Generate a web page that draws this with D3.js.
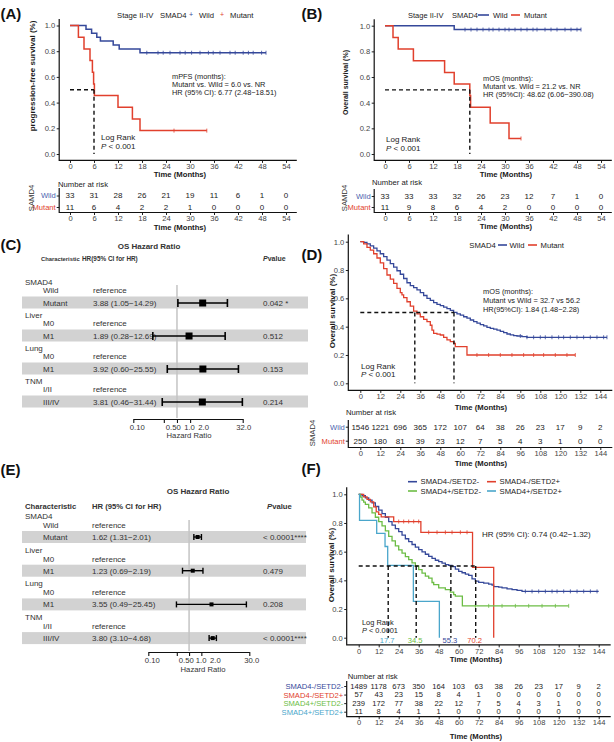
<!DOCTYPE html>
<html>
<head>
<meta charset="utf-8">
<script src="https://cdn.jsdelivr.net/npm/d3@7"></script>
<style>
  body { margin: 0; background: #fff; }
</style>
</head>
<body>
<div id="chart"></div>
<script>
const BLUE = "#35489a", RED = "#e1402d", GREEN = "#6cbd45", TEAL = "#4aa6cb";
const FONT = '"Liberation Sans", Arial, Helvetica, sans-serif';

// (A) PFS, stage II-IV
const aTimes = [0, 6, 12, 18, 24, 30, 36, 42, 48, 54];
const aWild = [[0, 1], [4, 0.97], [5.4, 0.939], [6.7, 0.909], [7.6, 0.879], [10.8, 0.848], [12.3, 0.818], [17.5, 0.788], [49, 0.788]];
const aMutant = [[0, 1], [2.1, 0.909], [3.5, 0.818], [5, 0.727], [5.6, 0.636], [5.9, 0.545], [6.1, 0.455], [12, 0.364], [15.6, 0.273], [17.5, 0.182], [34.2, 0.182]];
const aWildCensor = [19.2, 22, 23.3, 25, 27.5, 28.8, 30.4, 32.5, 34.6, 35.8, 37.5, 40, 41.3, 43.3, 44.6, 45.8, 47.9, 49];
const aMutantCensor = [26, 34.2];
const aRiskWild = [33, 31, 28, 26, 21, 19, 11, 6, 1, 0];
const aRiskMutant = [11, 6, 4, 2, 2, 1, 0, 0, 0, 0];
const aMedians = [6.0];

// (B) OS, stage II-IV
const bWild = [[0, 1], [17.3, 0.97], [49, 0.97]];
const bMutant = [[0, 1], [2, 0.909], [3.3, 0.818], [7.1, 0.727], [14.9, 0.636], [17.3, 0.545], [21.2, 0.455], [21.4, 0.364], [26.3, 0.242], [31, 0.121], [34, 0.121]];
const bWildCensor = [20, 21.5, 23, 24.5, 26, 27, 28.5, 30, 31, 32.5, 34, 35.5, 37, 38, 40, 41.5, 43, 45, 46.5, 48, 49];
const bMutantCensor = [34];
const bRiskWild = [33, 33, 33, 32, 26, 23, 12, 7, 1, 0];
const bRiskMutant = [11, 9, 8, 6, 4, 2, 0, 0, 0, 0];
const bMedians = [21.2];

// (C) multivariable OS, stage II-IV
const cGroups = ["SMAD4", "Liver", "Lung", "TNM"];
const cRefLevels = ["Wild", "M0", "M0", "I/II"];
const cLevels = ["Mutant", "M1", "M1", "III/IV"];
const cHR = [3.88, 1.89, 3.92, 3.81];
const cLow = [1.05, 0.28, 0.60, 0.46];
const cHigh = [14.29, 12.69, 25.55, 31.44];
const cP = ["0.042 *", "0.512", "0.153", "0.214"];
const cTicks = [0.1, 0.5, 1, 2, 32];
const cTickLabels = ["0.10", "0.50", "1.0", "2.0", "32.0"];

// (D) OS, whole cohort
const dTimes = [0, 12, 24, 36, 48, 60, 72, 84, 96, 108, 120, 132, 144];
const dWild = [[0, 1], [2, 0.995], [4, 0.985], [6, 0.97], [8, 0.955], [10, 0.935], [12, 0.915], [14, 0.895], [16, 0.87], [18, 0.845], [20, 0.82], [22, 0.795], [24, 0.77], [26, 0.74], [28, 0.71], [30, 0.69], [32, 0.675], [34, 0.66], [36, 0.64], [38, 0.62], [40, 0.6], [42, 0.585], [44, 0.57], [46, 0.558], [48, 0.548], [50, 0.538], [52, 0.528], [54, 0.515], [56, 0.501], [58, 0.49], [60, 0.482], [62, 0.47], [64, 0.46], [66, 0.447], [68, 0.435], [70, 0.425], [72, 0.415], [74, 0.405], [76, 0.395], [78, 0.388], [80, 0.382], [82, 0.376], [84, 0.366], [86, 0.358], [88, 0.348], [90, 0.342], [92, 0.337], [94, 0.334], [97, 0.329], [100, 0.325], [148, 0.325]];
const dMutant = [[0, 1], [2, 0.985], [4, 0.96], [6, 0.94], [8, 0.915], [10, 0.885], [12, 0.85], [14, 0.81], [16, 0.765], [18, 0.735], [20, 0.706], [22, 0.67], [24, 0.64], [25, 0.624], [26, 0.605], [28, 0.576], [30, 0.545], [32, 0.51], [34, 0.49], [36, 0.47], [38, 0.452], [40, 0.435], [42, 0.41], [43, 0.375], [44, 0.353], [46, 0.347], [48, 0.341], [50, 0.325], [52, 0.306], [54, 0.295], [56, 0.282], [57, 0.259], [64, 0.2], [129, 0.2]];
const dWildCensor = [96, 100, 104, 108, 111, 115, 119, 122, 126, 130, 134, 138, 142, 146, 148];
const dMutantCensor = [70, 77, 84, 91, 98, 104, 110, 117, 124, 129];
const dRiskWild = [1546, 1221, 696, 365, 172, 107, 64, 38, 26, 23, 17, 9, 2];
const dRiskMutant = [250, 180, 81, 39, 23, 12, 7, 5, 4, 3, 1, 0, 0];
const dMedians = [32.7, 56.2];

// (E) multivariable OS, whole cohort
const eGroups = ["SMAD4", "Liver", "Lung", "TNM"];
const eRefLevels = ["Wild", "M0", "M0", "I/II"];
const eLevels = ["Mutant", "M1", "M1", "III/IV"];
const eHR = [1.62, 1.23, 3.55, 3.80];
const eLow = [1.31, 0.69, 0.49, 3.10];
const eHigh = [2.01, 2.19, 25.45, 4.68];
const eP = ["< 0.0001****", "0.479", "0.208", "< 0.0001****"];
const eTicks = [0.1, 0.5, 1, 2, 30];
const eTickLabels = ["0.10", "0.50", "1.0", "2.0", "30.0"];

// (F) SMAD4 x SETD2
const fNames = ["SMAD4-/SETD2-", "SMAD4-/SETD2+", "SMAD4+/SETD2-", "SMAD4+/SETD2+"];
const fBlue = [[0, 1], [2, 0.99], [4, 0.975], [6, 0.96], [8, 0.94], [10, 0.915], [12, 0.89], [14, 0.865], [16, 0.84], [18, 0.81], [20, 0.785], [22, 0.76], [24, 0.74], [26, 0.715], [28, 0.69], [30, 0.67], [32, 0.65], [34, 0.632], [36, 0.614], [38, 0.598], [40, 0.582], [42, 0.567], [44, 0.553], [46, 0.54], [48, 0.53], [50, 0.52], [52, 0.51], [54, 0.505], [56, 0.495], [58, 0.478], [60, 0.463], [62, 0.453], [64, 0.443], [66, 0.435], [68, 0.41], [70, 0.395], [72, 0.386], [75, 0.38], [78, 0.374], [80, 0.366], [81, 0.356], [84, 0.352], [86, 0.347], [89, 0.34], [92, 0.335], [95, 0.33], [98, 0.323], [144, 0.323]];
const fRed = [[0, 1], [3, 0.982], [5, 0.965], [7, 0.947], [9, 0.912], [10.5, 0.877], [12, 0.86], [13.5, 0.842], [21, 0.81], [37.3, 0.735], [68.3, 0.49], [81, 0]];
const fGreen = [[0, 1], [1, 0.98], [2, 0.96], [3, 0.945], [4, 0.93], [6, 0.905], [8, 0.87], [10, 0.84], [12, 0.81], [14, 0.78], [16, 0.745], [18, 0.707], [20, 0.675], [22, 0.64], [24, 0.612], [26, 0.59], [28, 0.565], [30, 0.544], [32, 0.522], [34, 0.5], [36, 0.475], [38, 0.45], [40, 0.43], [42, 0.415], [44, 0.385], [45, 0.37], [48, 0.347], [52, 0.335], [55, 0.318], [57, 0.3], [58, 0.29], [62.2, 0.222], [126, 0.222]];
const fTeal = [[0, 1], [0.5, 0.818], [10.8, 0.727], [15.8, 0.636], [17.4, 0.505], [32.8, 0.253], [48.4, 0]];
const fBlueCensor = [100, 104, 108, 112, 116, 119, 123, 127, 131, 135, 139, 143];
const fRedCensor = [24, 27, 30, 33, 36, 42, 47, 52, 56, 61, 65];
const fGreenCensor = [70, 78, 86, 94, 102, 110, 118, 126];
const fRisk = [
    [1489, 1178, 673, 350, 164, 103, 63, 38, 26, 23, 17, 9, 2],
    [57, 43, 23, 15, 8, 4, 1, 0, 0, 0, 0, 0, 0],
    [239, 172, 77, 38, 22, 12, 7, 5, 4, 3, 1, 0, 0],
    [11, 8, 4, 1, 1, 0, 0, 0, 0, 0, 0, 0, 0]
];
const fMedians = [17.7, 34.5, 55.3, 70.2];

const svg = d3.select("#chart").append("svg")
    .attr("width", 614).attr("height", 742)
    .attr("font-family", FONT).attr("font-size", 8);

function txt(g, x, y, s, o = {}) {
    return g.append("text")
        .attr("x", x).attr("y", y).attr("dy", "0.35em")
        .attr("font-size", o.size || 8)
        .attr("font-weight", o.bold ? "bold" : null)
        .attr("fill", o.color || "#1a1a1a")
        .attr("text-anchor", o.anchor || "start")
        .text(s);
}

function pText(g, x, y, rest, o = {}) {
    const t = txt(g, x, y, "", o);
    t.append("tspan").attr("font-style", "italic").text("P");
    t.append("tspan").text(rest);
    return t;
}

function vtxt(g, x, y, s, o = {}) {
    return g.append("text")
        .attr("transform", `translate(${x},${y}) rotate(-90)`)
        .attr("dy", "0.35em").attr("text-anchor", "middle")
        .attr("font-size", o.size || 8)
        .attr("font-weight", o.bold ? "bold" : null)
        .attr("fill", o.color || "#1a1a1a")
        .text(s);
}

// stacked annotation lines
function block(g, x, y, lines, step) {
    lines.forEach((s, i) => txt(g, x, y + i * step, s, { size: 7.4 }));
}

function styleAxis(sel, size) {
    sel.attr("font-family", FONT).attr("font-size", size || 7.6);
    sel.selectAll("text").attr("fill", "#444");
    sel.selectAll("line").attr("stroke", "#222");
    sel.select(".domain").remove();
}

function survAt(data, t) {
    const i = d3.bisector(d => d[0]).right(data, t) - 1;
    return data[Math.max(0, i)][1];
}

function kmPanel(p) {
    const x = d3.scaleLinear().domain([0, p.tmax]).range(p.xr);
    const y = d3.scaleLinear().domain([0, 1]).range(p.yr);
    const left = x(-0.05 * p.tmax), right = x(1.05 * p.tmax);
    const top = y(1.05), bottom = y(-0.05);
    const g = svg.append("g");

    const line = d3.line().curve(d3.curveStepAfter).x(d => x(d[0])).y(d => y(d[1]));
    p.curves.forEach(c => {
        g.append("path").datum(c.data)
            .attr("fill", "none").attr("stroke", c.color)
            .attr("stroke-width", p.lw || 1.3)
            .attr("d", line);
        g.selectAll(null).data(c.censor || []).join("line")
            .attr("x1", t => x(t)).attr("x2", t => x(t))
            .attr("y1", t => y(survAt(c.data, t)) - 2)
            .attr("y2", t => y(survAt(c.data, t)) + 2)
            .attr("stroke", c.color).attr("stroke-width", 0.8);
    });

    // median guides
    const dash = g.append("g").attr("stroke", "#111")
        .attr("stroke-width", 1.4).attr("stroke-dasharray", "4,3");
    dash.append("line")
        .attr("x1", x(0)).attr("x2", x(d3.max(p.medians)))
        .attr("y1", y(0.5)).attr("y2", y(0.5));
    dash.selectAll(null).data(p.medians).join("line")
        .attr("x1", d => x(d)).attr("x2", d => x(d))
        .attr("y1", y(0.5)).attr("y2", y(0));

    const ya = g.append("g").attr("transform", `translate(${left},0)`)
        .call(d3.axisLeft(y).tickValues([0, 0.2, 0.4, 0.6, 0.8, 1])
            .tickFormat(d3.format(".1f")).tickSize(2.5).tickPadding(1.5));
    styleAxis(ya);
    const xa = g.append("g").attr("transform", `translate(0,${bottom})`)
        .call(d3.axisBottom(x).tickValues(p.times).tickSize(2.5).tickPadding(0.8));
    styleAxis(xa);
    g.append("path")
        .attr("d", `M${left},${top}V${bottom}H${right}`)
        .attr("fill", "none").attr("stroke", "#111").attr("stroke-width", 1.2);

    txt(g, p.xTitle[0], p.xTitle[1], "Time (Months)", { bold: true, anchor: "middle", size: 7.7 });
    vtxt(g, p.yTitle[0], p.yTitle[1], p.yLabel, { bold: true, size: p.yTitleSize || 8 });
    return x;
}

function riskTable(p) {
    const g = svg.append("g");
    const x = p.x;
    const yr = d3.scalePoint().domain(p.rows.map(r => r.name)).range(p.rowY);
    txt(g, p.headX, p.headY, "Number at risk", { color: "#222", size: 7.7 });
    p.rows.forEach(r => {
        g.selectAll(null).data(r.values).join("text")
            .attr("x", (d, i) => x(p.times[i]))
            .attr("y", yr(r.name)).attr("dy", "0.35em")
            .attr("text-anchor", "middle")
            .attr("font-size", p.size || 8).attr("fill", "#222")
            .text(d => d);
    });
    const la = g.append("g").attr("transform", `translate(${p.left},0)`)
        .call(d3.axisLeft(yr).tickSize(2.5).tickPadding(1));
    styleAxis(la, 7.6);
    la.selectAll("text").attr("fill", (d, i) => p.rows[i].color);
    const ba = g.append("g").attr("transform", `translate(0,${p.bottom})`)
        .call(d3.axisBottom(x).tickValues(p.times).tickSize(2.5).tickPadding(0.3));
    styleAxis(ba);
    g.append("path")
        .attr("d", `M${p.left},${p.top}V${p.bottom}H${p.right}`)
        .attr("fill", "none").attr("stroke", "#111").attr("stroke-width", 1.2);
    txt(g, p.xTitle[0], p.xTitle[1], "Time (Months)", { bold: true, anchor: "middle", size: 7.7 });
    if (p.strata) vtxt(g, p.strata[0], p.strata[1], p.strata[2], { color: "#333", size: 7.7 });
}

function forest(p) {
    const g = svg.append("g");
    const x = d3.scaleLog().domain(p.domain).range(p.range);
    const gy = i => p.y0 + i * p.dy;

    g.selectAll(null).data(p.groups).join("rect")
        .attr("x", p.bandX[0]).attr("width", p.bandX[1] - p.bandX[0])
        .attr("y", (d, i) => gy(i) + p.bandTop)
        .attr("height", p.bandBot - p.bandTop)
        .attr("fill", "#d2d2d2");

    g.append("line")
        .attr("x1", x(1)).attr("x2", x(1))
        .attr("y1", p.refTop).attr("y2", p.axisY - 1)
        .attr("stroke", "#c4c4c4").attr("stroke-width", 1.5);

    txt(g, p.titleXY[0], p.titleXY[1], "OS Hazard Ratio", { bold: true, anchor: "middle", color: "#333" });
    txt(g, p.head[0], p.headY, "Characteristic", { bold: true, color: "#333", size: p.headSize[0] });
    txt(g, p.head[1], p.headY, p.hrHead, { bold: true, color: "#333", size: p.headSize[1] });
    pText(g, p.head[2], p.headY, "value", { bold: true, color: "#333", size: p.headSize[2] });

    p.groups.forEach((name, i) => {
        const y0 = gy(i), yl = y0 + p.textOff;
        txt(g, p.groupX, y0, name, { color: "#333" });
        txt(g, p.levelX, y0 + p.refOff, p.refLevels[i], { color: "#333" });
        txt(g, p.hrX, y0 + p.refOff, "reference", { color: "#333" });
        txt(g, p.levelX, yl, p.levels[i], { color: "#333" });
        txt(g, p.hrX, yl, `${p.hr[i].toFixed(2)} (${p.lo[i].toFixed(2)}\u2212${p.hi[i].toFixed(2)})`, { color: "#333" });
        txt(g, p.pX, yl, p.p[i], { color: "#333" });

        g.append("line")
            .attr("x1", x(p.lo[i])).attr("x2", x(p.hi[i]))
            .attr("y1", yl).attr("y2", yl)
            .attr("stroke", "#000").attr("stroke-width", p.lw);
        [p.lo[i], p.hi[i]].forEach(v => {
            g.append("line")
                .attr("x1", x(v)).attr("x2", x(v))
                .attr("y1", yl - p.cap / 2).attr("y2", yl + p.cap / 2)
                .attr("stroke", "#000").attr("stroke-width", p.lw);
        });
        g.append("rect")
            .attr("x", x(p.hr[i]) - p.box / 2).attr("y", yl - p.box / 2)
            .attr("width", p.box).attr("height", p.box)
            .attr("fill", "#000");
    });

    const ax = g.append("g").attr("transform", `translate(0,${p.axisY})`)
        .call(d3.axisBottom(x).tickValues(p.ticks)
            .tickFormat((d, i) => p.tickLabels[i])
            .tickSize(4).tickSizeOuter(0).tickPadding(1.5));
    ax.attr("font-family", FONT).attr("font-size", 7.7);
    ax.selectAll("text").attr("fill", "#333").attr("dx", (d, i) => p.tickDx[i]);
    ax.selectAll("line, path").attr("stroke", "#111").attr("stroke-width", 1.1);
    txt(g, p.axisTitle[0], p.axisTitle[1], "Hazard Ratio", { anchor: "middle", color: "#333", size: 7.7 });
}

function legendLine(g, x1, x2, y, color) {
    g.append("line").attr("x1", x1).attr("x2", x2).attr("y1", y).attr("y2", y)
        .attr("stroke", color).attr("stroke-width", 1.6);
}

// ---------- panel labels
const labels = svg.append("g");
[["(A)", 0.5, 14], ["(B)", 301.5, 14], ["(C)", 0.5, 245], ["(D)", 301.5, 255], ["(E)", 0.5, 470], ["(F)", 301.5, 469]]
    .forEach(d => txt(labels, d[1], d[2], d[0], { bold: true, size: 15, color: "#111" }));

// ---------- (A)
const xA = kmPanel({
    tmax: 54, xr: [70, 286], yr: [154, 25.5], times: aTimes,
    curves: [
        { data: aWild, color: BLUE, censor: aWildCensor },
        { data: aMutant, color: RED, censor: aMutantCensor }
    ],
    medians: aMedians, lw: 1.5,
    xTitle: [180, 174.5], yTitle: [32, 76], yLabel: "progression-free survival (%)"
});
const gA = svg.append("g");
txt(gA, 117, 15, "Stage II-IV", { size: 7.7 });
txt(gA, 160, 15, "SMAD4", { size: 7.7 });
txt(gA, 191, 15, "+", { size: 7, color: BLUE, anchor: "middle" });
txt(gA, 199, 15, "Wild", { size: 7.7 });
txt(gA, 222, 15, "+", { size: 7, color: RED, anchor: "middle" });
txt(gA, 230, 15, "Mutant", { size: 7.7 });
block(gA, 172, 76, ["mPFS (months):", "Mutant vs. Wild = 6.0 vs. NR", "HR (95% CI): 6.77 (2.48\u221218.51)"], 8);
txt(gA, 101, 137.5, "Log Rank");
pText(gA, 101, 146, " < 0.001");
riskTable({
    x: xA, times: aTimes, left: 59.2, right: 296.8, top: 188, bottom: 212.5,
    rows: [{ name: "Wild", color: "#4a5fae", values: aRiskWild }, { name: "Mutant", color: RED, values: aRiskMutant }],
    rowY: [195.5, 207], headX: 58, headY: 184, xTitle: [180, 227], strata: [31, 198, "SAMD4"]
});

// ---------- (B)
const xB = kmPanel({
    tmax: 54, xr: [385, 601], yr: [154, 25.7], times: aTimes,
    curves: [
        { data: bWild, color: BLUE, censor: bWildCensor },
        { data: bMutant, color: RED, censor: bMutantCensor }
    ],
    medians: bMedians, lw: 1.5,
    xTitle: [506, 174.5], yTitle: [346, 82.5], yLabel: "Overall survival (%)", yTitleSize: 7
});
const gB = svg.append("g");
txt(gB, 408, 15, "Stage II-IV", { size: 7.5 });
txt(gB, 452, 15, "SMAD4", { size: 7.5 });
legendLine(gB, 478, 489, 15, BLUE);
txt(gB, 493, 15, "Wild", { size: 7.5 });
legendLine(gB, 511, 520, 15, RED);
txt(gB, 524, 15, "Mutant", { size: 7.5 });
block(gB, 483, 78, ["mOS (months):", "Mutant vs. Wild = 21.2 vs. NR", "HR (95%CI): 48.62 (6.06\u2212390.08)"], 8);
txt(gB, 386, 139.5, "Log Rank");
pText(gB, 386, 148, " < 0.001");
riskTable({
    x: xB, times: aTimes, left: 374.2, right: 611.8, top: 189, bottom: 212.5,
    rows: [{ name: "Wild", color: "#4a5fae", values: bRiskWild }, { name: "Mutant", color: RED, values: bRiskMutant }],
    rowY: [196, 207], headX: 372, headY: 182, xTitle: [506, 226.5], strata: [344, 198, "SAMD4"]
});

// ---------- (C)
forest({
    groups: cGroups, refLevels: cRefLevels, levels: cLevels,
    hr: cHR, lo: cLow, hi: cHigh, p: cP,
    domain: [0.1, 32], range: [133.3, 242.7],
    ticks: cTicks, tickLabels: cTickLabels, tickDx: [3.5, 9, 12, 13, 0.5],
    titleXY: [149, 246], headY: 259, head: [41, 82, 263], headSize: [5.8, 6.4, 7],
    hrHead: "HR(95% CI for HR)",
    groupX: 25, levelX: 43, hrX: 93, pX: 263,
    y0: 282, dy: 33, refOff: 8, bandTop: 14.5, bandBot: 26.5, textOff: 21,
    bandX: [22, 308], refTop: 285, axisY: 419, axisTitle: [189, 435.5],
    box: 7, cap: 8, lw: 1.6
});

// ---------- (D)
const xD = kmPanel({
    tmax: 144, xr: [360.3, 600.3], yr: [383.3, 241.7], times: dTimes,
    curves: [
        { data: dWild, color: BLUE, censor: dWildCensor },
        { data: dMutant, color: RED, censor: dMutantCensor }
    ],
    medians: dMedians,
    xTitle: [481, 407], yTitle: [332, 311], yLabel: "Overall survival (%)"
});
const gD = svg.append("g");
txt(gD, 469.3, 245, "SMAD4", { size: 7.7 });
legendLine(gD, 498, 507, 245, BLUE);
txt(gD, 509.5, 245, "Wild", { size: 7.7 });
legendLine(gD, 528, 537, 245, RED);
txt(gD, 540.5, 245, "Mutant", { size: 7.7 });
block(gD, 483, 291.5, ["mOS (months):", "Mutant vs Wild = 32.7 vs 56.2", "HR(95%CI): 1.84 (1.48\u22122.28)"], 9);
txt(gD, 361, 366, "Log Rank");
pText(gD, 361, 374.5, " < 0.001");
riskTable({
    x: xD, times: dTimes, left: 348.3, right: 612.3, top: 420, bottom: 447.5,
    rows: [{ name: "Wild", color: "#4a5fae", values: dRiskWild }, { name: "Mutant", color: RED, values: dRiskMutant }],
    rowY: [426.7, 440.7], headX: 346, headY: 412.3, xTitle: [481, 463.5], strata: [312, 433, "SMAD4"]
});

// ---------- (E)
forest({
    groups: eGroups, refLevels: eRefLevels, levels: eLevels,
    hr: eHR, lo: eLow, hi: eHigh, p: eP,
    domain: [0.1, 30], range: [148.3, 249.3],
    ticks: eTicks, tickLabels: eTickLabels, tickDx: [3.5, 9, 11.5, 13.5, 2],
    titleXY: [198, 491], headY: 506, head: [25, 92, 267], headSize: [7.7, 7.7, 7.7],
    hrHead: "HR (95% CI for HR)",
    groupX: 25, levelX: 43, hrX: 92, pX: 263,
    y0: 516, dy: 33.7, refOff: 9, bandTop: 15, bandBot: 27, textOff: 21,
    bandX: [22, 306], refTop: 520, axisY: 652, axisTitle: [203, 669.5],
    box: 4, cap: 6, lw: 1.4
});

// ---------- (F)
const fColors = [BLUE, RED, GREEN, TEAL];
const xF = kmPanel({
    tmax: 144, xr: [358.7, 598.7], yr: [637.7, 494.3], times: dTimes,
    curves: [
        { data: fBlue, color: BLUE, censor: fBlueCensor },
        { data: fRed, color: RED, censor: fRedCensor },
        { data: fGreen, color: GREEN, censor: fGreenCensor },
        { data: fTeal, color: TEAL }
    ],
    medians: fMedians,
    xTitle: [476, 659.5], yTitle: [331, 565], yLabel: "Overall survival (%)"
});
const gF = svg.append("g");
fNames.forEach((name, i) => {
    const lx = i % 2 === 0 ? 408 : 487, ly = i < 2 ? 481.7 : 491;
    legendLine(gF, lx, lx + 9, ly, fColors[i]);
    txt(gF, lx + 12.5, ly, name, { size: 7.7 });
});
txt(gF, 482, 534.3, "HR (95% CI): 0.74 (0.42\u22121.32)");
txt(gF, 362, 622.5, "Log Rank", { size: 7.4 });
pText(gF, 362, 630.5, " < 0.0001", { size: 7.4 });
[TEAL, GREEN, BLUE, RED].forEach((c, i) => {
    txt(gF, xF(fMedians[i]) - 1, 640.5, fMedians[i].toFixed(1), { color: c, anchor: "middle", size: 7.6 });
});
riskTable({
    x: xF, times: dTimes, left: 346.7, right: 610.7, top: 681, bottom: 716.7, size: 7.6,
    rows: fNames.map((n, i) => ({ name: n, color: fColors[i], values: fRisk[i] })),
    rowY: [686, 711.7], headX: 347.7, headY: 676, xTitle: [476, 736]
});
</script>
</body>
</html>
